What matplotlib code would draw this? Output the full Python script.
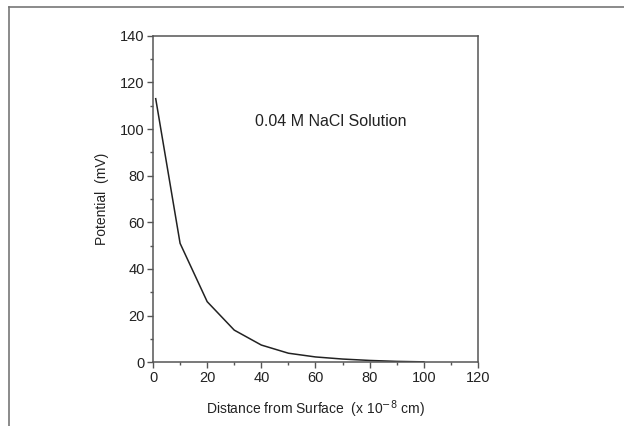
import numpy as np
import matplotlib
matplotlib.use("Agg")
import matplotlib.pyplot as plt
from matplotlib.lines import Line2D
from matplotlib.ticker import MultipleLocator

plt.rcParams['font.family'] = ['Liberation Sans', 'DejaVu Sans']

# distance from surface (x 10^-8 cm) and potential (mV)
distance = [1, 10, 20, 30, 40, 50, 60, 70, 80, 90, 100]
potential = [113.0, 51.0, 26.0, 13.8, 7.4, 3.9, 2.3, 1.4, 0.8, 0.4, 0.2]

x_ticks = [0, 20, 40, 60, 80, 100, 120]
y_ticks = [0, 20, 40, 60, 80, 100, 120, 140]
label_text = "0.04 M NaCl Solution"

fig = plt.figure(figsize=(6.24, 4.26), dpi=100)
ax = fig.add_axes([0.2452, 0.1495, 0.5208, 0.7667])

ax.plot(distance, potential, color="#222222", linewidth=1.1)

ax.set_xlim(0, 120)
ax.set_ylim(0, 140)
ax.set_xticks(x_ticks)
ax.set_yticks(y_ticks)
ax.xaxis.set_minor_locator(MultipleLocator(10))
ax.yaxis.set_minor_locator(MultipleLocator(10))
ax.tick_params(which="major", direction="out", length=4, width=1, color="#555555",
               labelsize=10.5, labelcolor="#222222", pad=2)
ax.tick_params(which="minor", direction="out", length=2.5, width=1, color="#555555")
for s in ax.spines.values():
    s.set_color("#555555")
    s.set_linewidth(1.1)

ax.set_xlabel("Distance from Surface  (x 10$^{-8}$ cm)", fontsize=10, labelpad=10,
              color="#222222")
ax.set_ylabel("Potential  (mV)", fontsize=10, labelpad=8, color="#222222")

ax.text(0.548, 0.736, label_text, transform=ax.transAxes, fontsize=11.5,
        ha="center", va="center", color="#222222")

# grey frame at top and left edge of the image
fig.add_artist(Line2D([8.5 / 624, 8.5 / 624], [0, 1 - 7 / 426], transform=fig.transFigure,
                      color="#777777", linewidth=1.2))
fig.add_artist(Line2D([8.5 / 624, 1], [1 - 7 / 426, 1 - 7 / 426], transform=fig.transFigure,
                      color="#777777", linewidth=1.2))

fig.savefig("out.png", dpi=100)
